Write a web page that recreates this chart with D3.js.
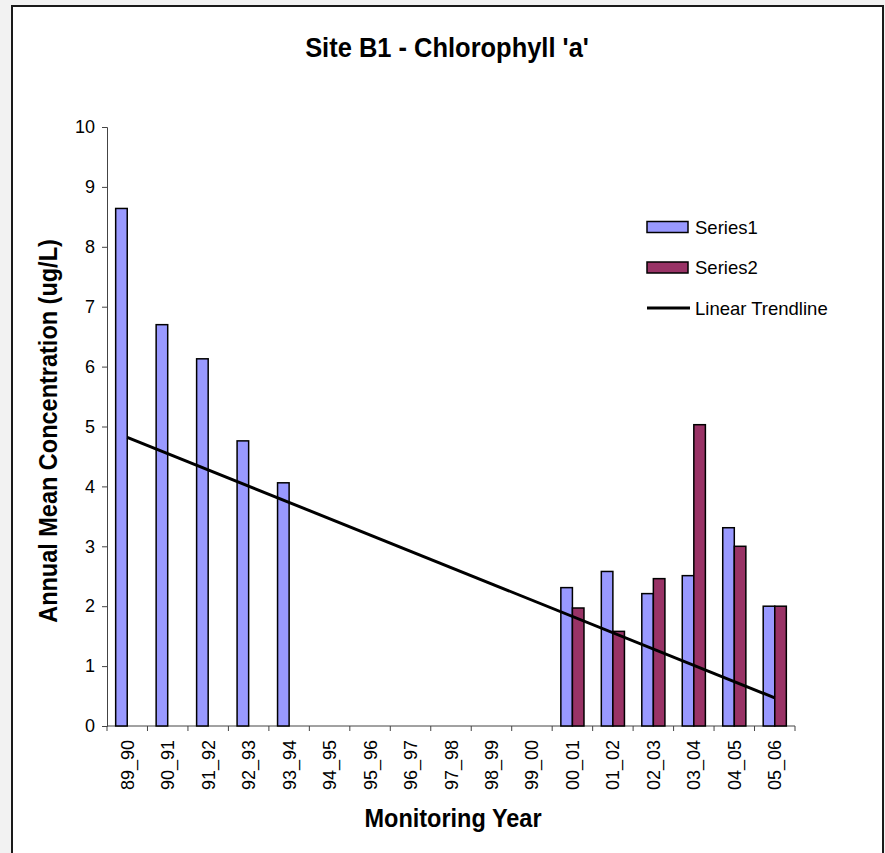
<!DOCTYPE html>
<head>
  <meta charset="utf-8">
  <title>Site B1 - Chlorophyll 'a'</title>
  <style>
    body { margin: 0; background: #f2f2f2; }
    svg { display: block; font-family: "Liberation Sans", Arial, sans-serif; }
  </style>
</head>

<body>
  <div id="chart"></div>
  <script src="https://cdn.jsdelivr.net/npm/d3@7"></script>
  <script type="text/javascript">

    // data
    var years = ["89_90", "90_91", "91_92", "92_93", "93_94", "94_95", "95_96", "96_97",
                 "97_98", "98_99", "99_00", "00_01", "01_02", "02_03", "03_04", "04_05", "05_06"];
    var series1 = [8.64, 6.70, 6.13, 4.76, 4.06, null, null, null, null, null, null,
                   2.31, 2.58, 2.21, 2.51, 3.31, 2.00];
    var series2 = [null, null, null, null, null, null, null, null, null, null, null,
                   1.97, 1.58, 2.46, 5.03, 3.00, 2.00];
    var trendYears = ["89_90", "05_06"];
    var trendValues = [4.82, 0.47];
    var yTicks = [0, 1, 2, 3, 4, 5, 6, 7, 8, 9, 10];

    var W = 885, H = 853;
    var svg = d3.select("#chart").append("svg")
        .attr("width", W)
        .attr("height", H);

    svg.append("rect").attr("width", W).attr("height", H).attr("fill", "#f2f2f2");
    svg.append("rect")
        .attr("x", 12).attr("y", 6)
        .attr("width", 871).attr("height", 870)
        .attr("fill", "#fff")
        .attr("stroke", "#1a1a1a")
        .attr("stroke-width", 2);

    var x = d3.scaleBand().domain(years).range([107, 795]).paddingInner(0).paddingOuter(0);
    var y = d3.scaleLinear().domain([0, 10]).range([726, 127]);
    var bw = x.bandwidth() / 3.5;
    var mid = d => x(d) + x.bandwidth() / 2;

    // y axis
    var yAxis = svg.append("g")
        .attr("transform", "translate(107,0)")
        .call(d3.axisLeft(y).tickValues(yTicks).tickSize(5).tickPadding(7).tickFormat(d3.format("d")));
    yAxis.select(".domain").attr("stroke", "#444");
    yAxis.selectAll(".tick line").attr("stroke", "#444");
    yAxis.selectAll("text").attr("font-size", 18).attr("fill", "#000")
        .attr("font-family", "Liberation Sans, Arial, sans-serif");

    // x axis, ticks between categories like Excel
    var xg = svg.append("g");
    xg.append("line")
        .attr("x1", x.range()[0]).attr("x2", x.range()[1])
        .attr("y1", y(0)).attr("y2", y(0))
        .attr("stroke", "#444");
    var edges = years.map(d => x(d)).concat([x.range()[1]]);
    xg.selectAll("line.tk").data(edges).join("line")
        .attr("class", "tk")
        .attr("x1", d => d).attr("x2", d => d)
        .attr("y1", y(0)).attr("y2", y(0) + 5)
        .attr("stroke", "#444");
    xg.selectAll("text").data(years).join("text")
        .attr("transform", d => "translate(" + (mid(d) + 6.5) + "," + (y(0) + 14) + ") rotate(-90)")
        .attr("text-anchor", "end")
        .attr("font-size", 18)
        .text(d => d);

    // bars
    var s1 = years.map((d, i) => ({ year: d, v: series1[i] })).filter(d => d.v != null);
    var s2 = years.map((d, i) => ({ year: d, v: series2[i] })).filter(d => d.v != null);

    svg.append("g").selectAll("rect").data(s1).join("rect")
        .attr("x", d => mid(d.year) - bw)
        .attr("y", d => y(d.v))
        .attr("width", bw)
        .attr("height", d => y(0) - y(d.v))
        .attr("fill", "#9999ff")
        .attr("stroke", "#000")
        .attr("stroke-width", 1.5);

    svg.append("g").selectAll("rect").data(s2).join("rect")
        .attr("x", d => mid(d.year))
        .attr("y", d => y(d.v))
        .attr("width", bw)
        .attr("height", d => y(0) - y(d.v))
        .attr("fill", "#993366")
        .attr("stroke", "#000")
        .attr("stroke-width", 1.5);

    // trendline
    var trend = trendYears.map((d, i) => [mid(d), y(trendValues[i])]);
    svg.append("path")
        .attr("d", d3.line()(trend))
        .attr("fill", "none")
        .attr("stroke", "#000")
        .attr("stroke-width", 3);

    // titles
    svg.append("text")
        .attr("transform", "translate(447,57) scale(0.91,1)")
        .attr("text-anchor", "middle")
        .attr("font-size", 28)
        .attr("font-weight", "bold")
        .text("Site B1 - Chlorophyll 'a'");

    svg.append("text")
        .attr("transform", "translate(453,827) scale(0.94,1)")
        .attr("text-anchor", "middle")
        .attr("font-size", 25)
        .attr("font-weight", "bold")
        .text("Monitoring Year");

    svg.append("text")
        .attr("transform", "translate(57,431) rotate(-90) scale(0.94,1)")
        .attr("text-anchor", "middle")
        .attr("font-size", 25)
        .attr("font-weight", "bold")
        .text("Annual Mean Concentration (ug/L)");

    // legend
    var legend = svg.append("g").attr("transform", "translate(647,227)");
    var items = [
      { name: "Series1", type: "rect", color: "#9999ff" },
      { name: "Series2", type: "rect", color: "#993366" },
      { name: "Linear Trendline", type: "line", color: "#000" }
    ];
    var li = legend.selectAll("g").data(items).join("g")
        .attr("transform", (d, i) => "translate(0," + (i * 40.5) + ")");
    li.filter(d => d.type == "rect").append("rect")
        .attr("x", 0).attr("y", -5.5).attr("width", 41).attr("height", 11)
        .attr("fill", d => d.color).attr("stroke", "#000").attr("stroke-width", 1.5);
    li.filter(d => d.type == "line").append("line")
        .attr("x1", 0).attr("x2", 43).attr("y1", 0).attr("y2", 0)
        .attr("stroke", "#000").attr("stroke-width", 3);
    li.append("text")
        .attr("x", 48).attr("y", 6.5)
        .attr("font-size", 18.5)
        .text(d => d.name);

  </script>
</body>
